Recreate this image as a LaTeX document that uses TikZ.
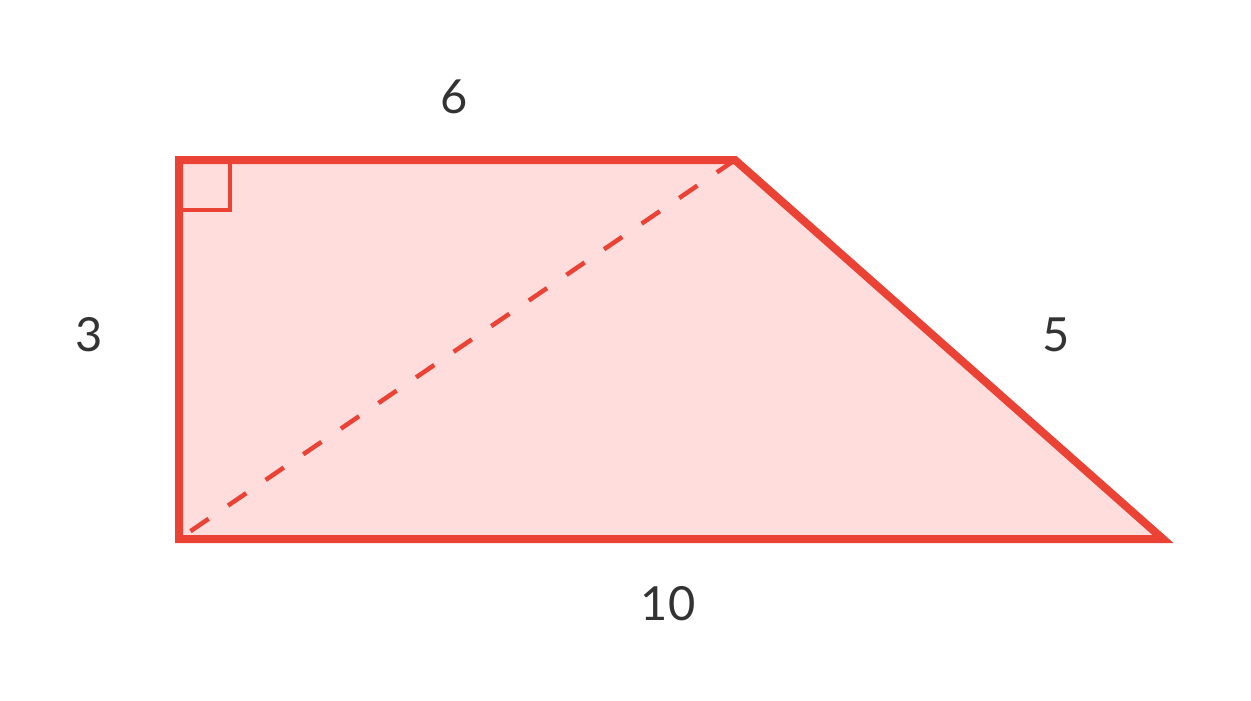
\documentclass[tikz,border=0pt]{standalone}
\usepackage{fontspec}
\setmainfont{Lato}
\definecolor{edge}{RGB}{234,67,53}
\definecolor{fillpink}{RGB}{255,221,221}
\definecolor{labelgray}{RGB}{51,51,51}
\begin{document}
\begin{tikzpicture}[x=1pt,y=-1pt,
  side/.style={draw=edge,line width=8pt,line join=miter,fill=fillpink},
  diag/.style={draw=edge,line width=4.5pt,dash pattern=on 22pt off 23.5pt,line cap=butt},
  rightmark/.style={draw=edge,line width=4pt},
  lbl/.style={text=labelgray,font=\fontsize{47}{50}\selectfont,inner sep=0pt}]
\useasboundingbox (0,0) rectangle (1251,701);
\coordinate (A) at (179,160);
\coordinate (B) at (735,160);
\coordinate (C) at (1163,539);
\coordinate (D) at (179,539);
\path[side] (A) -- (B) -- (C) -- (D) -- cycle;
\draw[diag] (B) -- (D);
\draw[rightmark] (181,210) -- (229.5,210) -- (229.5,162);
\node[lbl] (top) at (454,97) {6};
\node[lbl] (left) at (89,335) {3};
\node[lbl] (right) at (1056,335) {5};
\node[lbl] (bottom) at (668,604) {10};
\end{tikzpicture}
\end{document}
